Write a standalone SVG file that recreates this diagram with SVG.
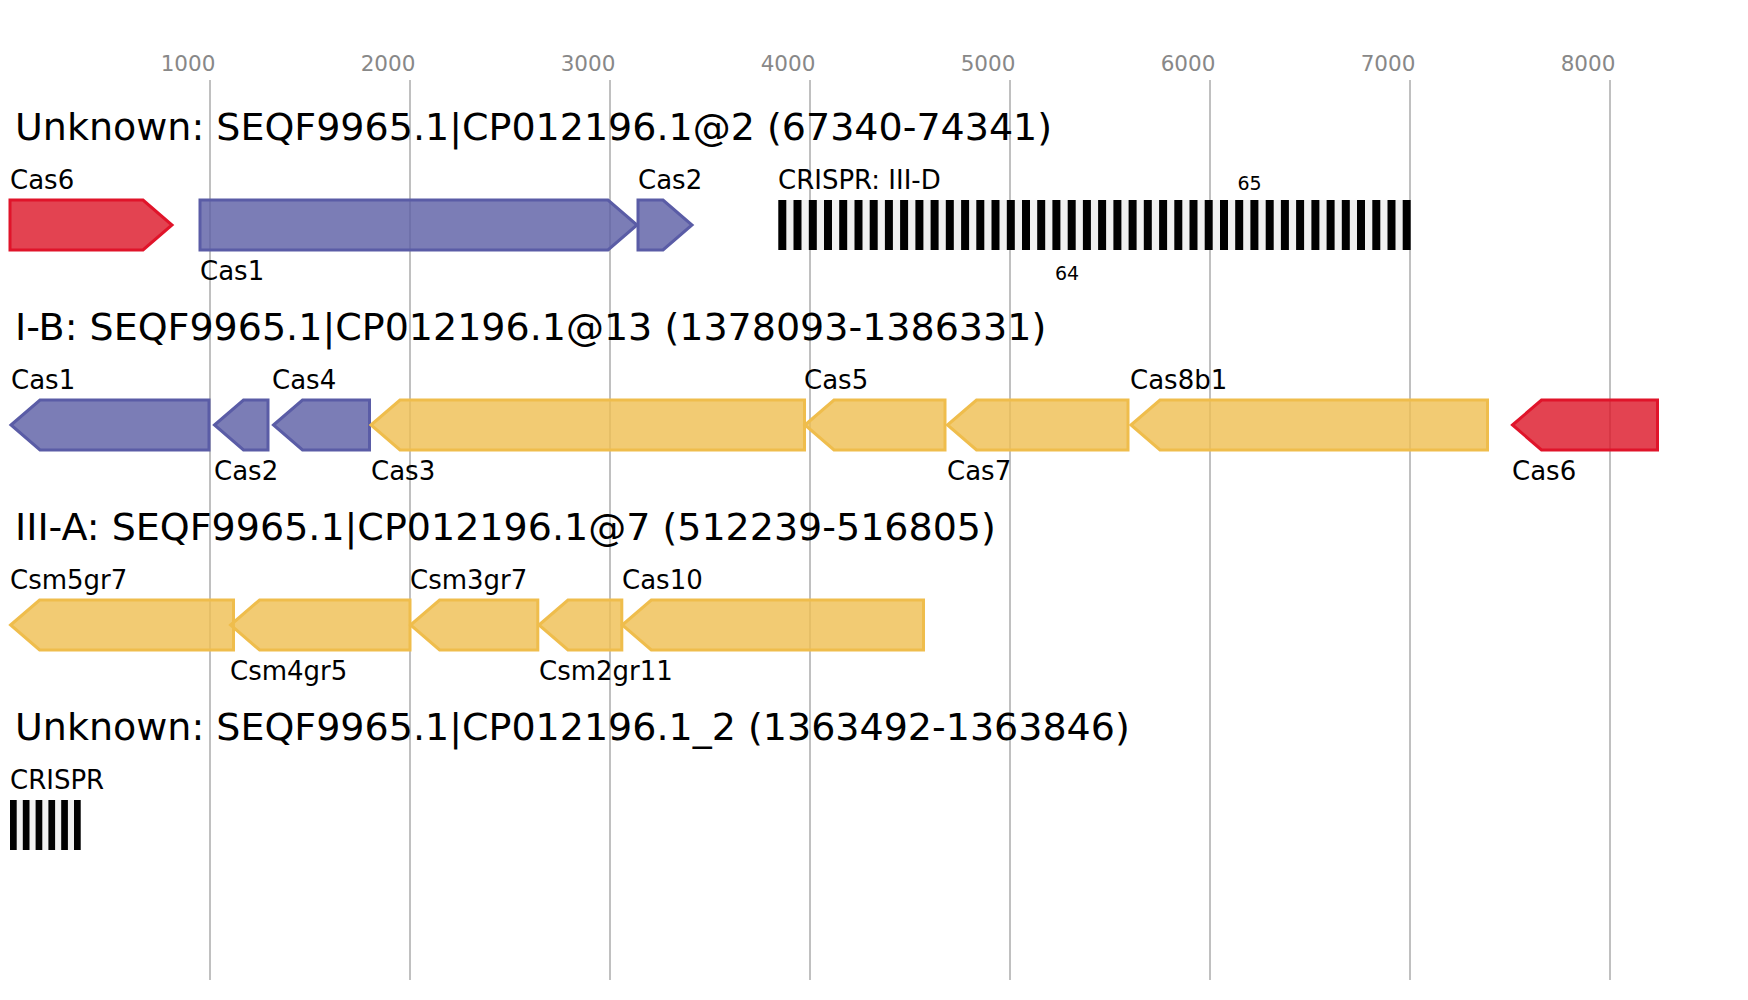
<svg xmlns="http://www.w3.org/2000/svg" width="1748" height="1000" viewBox="0 0 1748 1000">
<style>
text{font-family:"DejaVu Sans","Liberation Sans",sans-serif;fill:#000}
.ax{font-size:21.5px;fill:#888;text-anchor:middle}
.grid{stroke:#c0c0c0;stroke-width:2}
.title{font-size:38px}
.lbl{font-size:26px}
.num{font-size:19px;text-anchor:middle}
.red{fill:#dc1426;fill-opacity:0.8;stroke:#e0142a;stroke-width:3}
.blue{fill:#5a5ca4;fill-opacity:0.8;stroke:#5a5ca6;stroke-width:3}
.yel{fill:#efbe50;fill-opacity:0.8;stroke:#efbd4c;stroke-width:3}
.sp{fill:#f0f0f0}
.rp{fill:#000}
</style>
<rect width="1748" height="1000" fill="#fff"/>
<g id="axis">
<line class="grid" x1="210" y1="80" x2="210" y2="980"/>
<line class="grid" x1="410" y1="80" x2="410" y2="980"/>
<line class="grid" x1="610" y1="80" x2="610" y2="980"/>
<line class="grid" x1="810" y1="80" x2="810" y2="980"/>
<line class="grid" x1="1010" y1="80" x2="1010" y2="980"/>
<line class="grid" x1="1210" y1="80" x2="1210" y2="980"/>
<line class="grid" x1="1410" y1="80" x2="1410" y2="980"/>
<line class="grid" x1="1610" y1="80" x2="1610" y2="980"/>
<text class="ax" x="188" y="71">1000</text>
<text class="ax" x="388" y="71">2000</text>
<text class="ax" x="588" y="71">3000</text>
<text class="ax" x="788" y="71">4000</text>
<text class="ax" x="988" y="71">5000</text>
<text class="ax" x="1188" y="71">6000</text>
<text class="ax" x="1388" y="71">7000</text>
<text class="ax" x="1588" y="71">8000</text>
</g>
<g id="titles">
<text class="title" x="15" y="140">Unknown: SEQF9965.1|CP012196.1@2 (67340-74341)</text>
<text class="title" x="15" y="340">I-B: SEQF9965.1|CP012196.1@13 (1378093-1386331)</text>
<text class="title" x="15" y="540">III-A: SEQF9965.1|CP012196.1@7 (512239-516805)</text>
<text class="title" x="15" y="740">Unknown: SEQF9965.1|CP012196.1_2 (1363492-1363846)</text>
</g>
<g id="connectors"></g>
<!-- Row 1 -->
<g id="r1_cas6"><path class="red" d="M10,200 H143 L172,225 L143,250 H10 Z"/><text class="lbl" x="10" y="189">Cas6</text></g>
<g id="r1_cas1"><path class="blue" d="M200,200 H608 L637,225 L608,250 H200 Z"/><text class="lbl" x="200" y="280">Cas1</text></g>
<g id="r1_cas2"><path class="blue" d="M638,200 H663 L692,225 L663,250 H638 Z"/><text class="lbl" x="638" y="189">Cas2</text></g>
<g id="r1_crispr">
<rect class="sp" x="778.3" y="200" width="632.4" height="50"/>
<g class="rp">
<rect x="778.3" y="200" width="8" height="50"/><rect x="793.5" y="200" width="8" height="50"/><rect x="808.8" y="200" width="8" height="50"/><rect x="824.0" y="200" width="8" height="50"/><rect x="839.2" y="200" width="8" height="50"/><rect x="854.5" y="200" width="8" height="50"/><rect x="869.7" y="200" width="8" height="50"/><rect x="884.9" y="200" width="8" height="50"/><rect x="900.1" y="200" width="8" height="50"/><rect x="915.4" y="200" width="8" height="50"/><rect x="930.6" y="200" width="8" height="50"/><rect x="945.8" y="200" width="8" height="50"/><rect x="961.1" y="200" width="8" height="50"/><rect x="976.3" y="200" width="8" height="50"/><rect x="991.5" y="200" width="8" height="50"/><rect x="1006.8" y="200" width="8" height="50"/><rect x="1022.0" y="200" width="8" height="50"/><rect x="1037.2" y="200" width="8" height="50"/><rect x="1052.4" y="200" width="8" height="50"/><rect x="1067.7" y="200" width="8" height="50"/><rect x="1082.9" y="200" width="8" height="50"/><rect x="1098.1" y="200" width="8" height="50"/><rect x="1113.4" y="200" width="8" height="50"/><rect x="1128.6" y="200" width="8" height="50"/><rect x="1143.8" y="200" width="8" height="50"/><rect x="1159.1" y="200" width="8" height="50"/><rect x="1174.3" y="200" width="8" height="50"/><rect x="1189.5" y="200" width="8" height="50"/><rect x="1204.7" y="200" width="8" height="50"/><rect x="1220.0" y="200" width="8" height="50"/><rect x="1235.2" y="200" width="8" height="50"/><rect x="1250.4" y="200" width="8" height="50"/><rect x="1265.7" y="200" width="8" height="50"/><rect x="1280.9" y="200" width="8" height="50"/><rect x="1296.1" y="200" width="8" height="50"/><rect x="1311.4" y="200" width="8" height="50"/><rect x="1326.6" y="200" width="8" height="50"/><rect x="1341.8" y="200" width="8" height="50"/><rect x="1357.0" y="200" width="8" height="50"/><rect x="1372.3" y="200" width="8" height="50"/><rect x="1387.5" y="200" width="8" height="50"/><rect x="1402.7" y="200" width="8" height="50"/>
</g>
<text class="lbl" x="778" y="189">CRISPR: III-D</text>
<text class="num" x="1249.5" y="190">65</text>
<text class="num" x="1067" y="280">64</text>
</g>
<!-- Row 2 -->
<g id="r2_cas1"><path class="blue" d="M11,425 L40,400 H209 V450 H40 Z"/><text class="lbl" x="11" y="389">Cas1</text></g>
<g id="r2_cas2"><path class="blue" d="M214.5,425 L243.5,400 H268 V450 H243.5 Z"/><text class="lbl" x="214" y="480">Cas2</text></g>
<g id="r2_cas4"><path class="blue" d="M273.5,425 L302.5,400 H369.5 V450 H302.5 Z"/><text class="lbl" x="272" y="389">Cas4</text></g>
<g id="r2_cas3"><path class="yel" d="M371,425 L400,400 H804.5 V450 H400 Z"/><text class="lbl" x="371" y="480">Cas3</text></g>
<g id="r2_cas5"><path class="yel" d="M805,425 L834,400 H945 V450 H834 Z"/><text class="lbl" x="804" y="389">Cas5</text></g>
<g id="r2_cas7"><path class="yel" d="M947.5,425 L976.5,400 H1128 V450 H976.5 Z"/><text class="lbl" x="947" y="480">Cas7</text></g>
<g id="r2_cas8b1"><path class="yel" d="M1131,425 L1160,400 H1487.5 V450 H1160 Z"/><text class="lbl" x="1130" y="389">Cas8b1</text></g>
<g id="r2_cas6"><path class="red" d="M1512.5,425 L1541.5,400 H1657.5 V450 H1541.5 Z"/><text class="lbl" x="1512" y="480">Cas6</text></g>
<!-- Row 3 -->
<g id="r3_csm5gr7"><path class="yel" d="M10.6,625 L39.6,600 H233.5 V650 H39.6 Z"/><text class="lbl" x="10" y="589">Csm5gr7</text></g>
<g id="r3_csm4gr5"><path class="yel" d="M230.6,625 L259.6,600 H410 V650 H259.6 Z"/><text class="lbl" x="230" y="680">Csm4gr5</text></g>
<g id="r3_csm3gr7"><path class="yel" d="M410.6,625 L439.6,600 H537.8 V650 H439.6 Z"/><text class="lbl" x="410" y="589">Csm3gr7</text></g>
<g id="r3_csm2gr11"><path class="yel" d="M539,625 L568,600 H621.8 V650 H568 Z"/><text class="lbl" x="539" y="680">Csm2gr11</text></g>
<g id="r3_cas10"><path class="yel" d="M622.3,625 L651.3,600 H923.5 V650 H651.3 Z"/><text class="lbl" x="622" y="589">Cas10</text></g>
<!-- Row 4 -->
<g id="r4_crispr">
<rect class="sp" x="10" y="800" width="70.7" height="50"/>
<g class="rp">
<rect x="10" y="800" width="6.7" height="50"/><rect x="22.8" y="800" width="6.7" height="50"/><rect x="35.6" y="800" width="6.7" height="50"/><rect x="48.4" y="800" width="6.7" height="50"/><rect x="61.2" y="800" width="6.7" height="50"/><rect x="74" y="800" width="6.7" height="50"/>
</g>
<text class="lbl" x="10" y="789">CRISPR</text>
</g>
</svg>
